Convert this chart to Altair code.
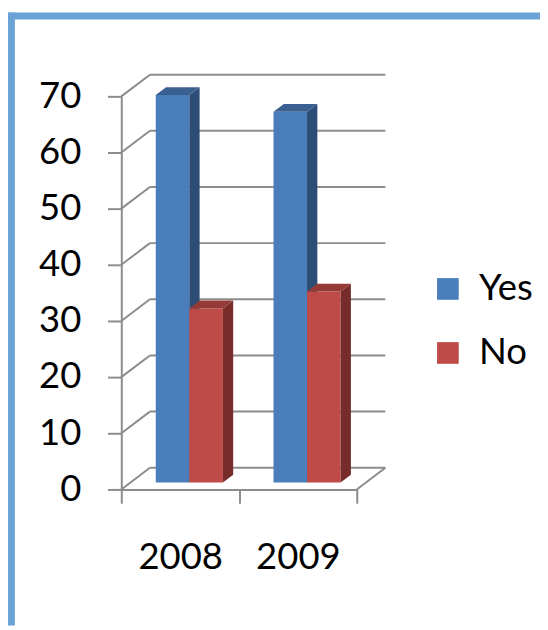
import altair as alt
import pandas as pd

# ---- data ----
years = ["2008", "2009"]
series = ["Yes", "No"]
yes_vals = [69, 66]
no_vals = [31, 34]
y_ticks = [0, 10, 20, 30, 40, 50, 60, 70]

# ---- style ----
FONT = "Lato"
FS = 37
GRID = "#8c8c8c"
front_col = {"Yes": "#4A7EBB", "No": "#BE4B48"}
top_col = {"Yes": "#3A6091", "No": "#953A37"}
side_col = {"Yes": "#2C4D75", "No": "#772C2A"}

# 3-D geometry (in scale units)
N = len(years)
DEPTH_X = 0.243   # full depth, x units (categories)
DEPTH_Y = 3.86    # full depth, value units
FRONT = 0.32      # bar front at this fraction of depth
BACK = 0.68       # bar back at this fraction of depth
BAR_W = 0.285     # bar width in category units

fx, fy = FRONT * DEPTH_X, FRONT * DEPTH_Y
dbx, dby = (BACK - FRONT) * DEPTH_X, (BACK - FRONT) * DEPTH_Y

values = {"Yes": yes_vals, "No": no_vals}

xs = alt.Scale(domain=[0, N], nice=False, zero=False)
ys = alt.Scale(domain=[0, max(y_ticks)], nice=False)

label_expr = " : ".join(
    [f"datum.value == {i + 0.5} ? '{y}'" for i, y in enumerate(years)]
) + " : ''"
x_vals = sorted(set([float(i) for i in range(N + 1)] + [i + 0.5 for i in range(N)]))

X_AXIS = alt.Axis(
    values=x_vals, labelExpr=label_expr, title=None, grid=False,
    tickSize=14, tickWidth=2, tickColor=GRID,
    tickOpacity={"condition": {"test": "datum.value % 1 != 0", "value": 0}, "value": 1},
    domainColor=GRID, domainWidth=2,
    labelFont=FONT, labelFontSize=FS, labelColor="#000000",
    labelPadding=37, labelFlush=False, labelOverlap=False,
)
Y_AXIS = alt.Axis(
    values=y_ticks, title=None, grid=False,
    tickSize=14, tickWidth=2, tickColor=GRID,
    domainColor=GRID, domainWidth=2,
    labelFont=FONT, labelFontSize=FS, labelColor="#000000",
    labelPadding=27, labelFlush=False, labelOverlap=False,
)

# ---- wall / floor lines ----
grid_rows = []
for v in y_ticks:
    grid_rows.append({"x": 0, "y": v, "x2": DEPTH_X, "y2": v + DEPTH_Y})
    grid_rows.append({"x": DEPTH_X, "y": v + DEPTH_Y, "x2": N + DEPTH_X, "y2": v + DEPTH_Y})
grid_rows.append({"x": N, "y": 0, "x2": N + DEPTH_X, "y2": DEPTH_Y})
grid_df = pd.DataFrame(grid_rows)

grid = alt.Chart(grid_df).mark_rule(color=GRID, strokeWidth=2).encode(
    x=alt.X("x:Q", scale=xs, axis=X_AXIS),
    y=alt.Y("y:Q", scale=ys, axis=Y_AXIS),
    x2="x2:Q",
    y2="y2:Q",
)

# ---- bars ----
layers = [grid]
for j, s in enumerate(series):
    front_rows, side_rows, top_rows = [], [], []
    for i, yr in enumerate(years):
        v = values[s][i]
        center = i + 0.5 + fx
        left = center - BAR_W if j == 0 else center
        right = left + BAR_W
        bid = f"{s}-{yr}"
        front_rows.append({"series": s, "year": yr, "value": v,
                           "x": left, "x2": right, "y": fy, "y2": v + fy})
        side_rows.append({"id": bid, "x": right, "y": fy, "y2": v + fy})
        side_rows.append({"id": bid, "x": right + dbx, "y": fy + dby, "y2": v + fy + dby})
        top_rows.append({"id": bid, "y": v + fy, "x": left, "x2": right})
        top_rows.append({"id": bid, "y": v + fy + dby, "x": left + dbx, "x2": right + dbx})

    front = alt.Chart(pd.DataFrame(front_rows)).mark_rect().encode(
        x=alt.X("x:Q", scale=xs, axis=X_AXIS),
        x2="x2:Q",
        y=alt.Y("y:Q", scale=ys, axis=Y_AXIS),
        y2="y2:Q",
        color=alt.Color(
            "series:N",
            scale=alt.Scale(domain=series, range=[front_col[k] for k in series]),
            legend=alt.Legend(
                title=None, orient="none", legendX=313, legendY=177, padding=0,
                symbolType="square", symbolSize=484, symbolStrokeWidth=0,
                symbolOpacity=1, labelFont=FONT, labelFontSize=FS,
                labelColor="#000000", labelOffset=13, rowPadding=27,
            ),
        ),
    )
    side = alt.Chart(pd.DataFrame(side_rows)).mark_area(
        color=side_col[s], opacity=1
    ).encode(
        x=alt.X("x:Q", scale=xs, axis=X_AXIS),
        y=alt.Y("y:Q", scale=ys, axis=Y_AXIS),
        y2="y2:Q",
        detail="id:N",
    )
    top = alt.Chart(pd.DataFrame(top_rows)).mark_area(
        color=top_col[s], opacity=1, orient="horizontal"
    ).encode(
        y=alt.Y("y:Q", scale=ys, axis=Y_AXIS),
        x=alt.X("x:Q", scale=xs, axis=X_AXIS),
        x2="x2:Q",
        detail="id:N",
    )
    layers += [front, side, top]

# ---- blue slide frame (top and left edges) ----
frame_df = pd.DataFrame({"k": [0]})
frame_top = alt.Chart(frame_df).mark_rect(color="#6BA3D6").encode(
    x=alt.value(-115), x2=alt.value(425), y=alt.value(-85), y2=alt.value(-78)
)
frame_left = alt.Chart(frame_df).mark_rect(color="#6BA3D6").encode(
    x=alt.value(-115), x2=alt.value(-108), y=alt.value(-85), y2=alt.value(537)
)

chart = alt.layer(frame_top, frame_left, *layers).properties(
    width=239,
    height=399,
    padding={"left": 115, "top": 85, "right": 186, "bottom": 138},
    autosize=alt.AutoSizeParams(type="none"),
    background="#ffffff",
).configure_view(strokeWidth=0)

chart.save("out.html", embed_options={"renderer": "svg", "actions": False})
